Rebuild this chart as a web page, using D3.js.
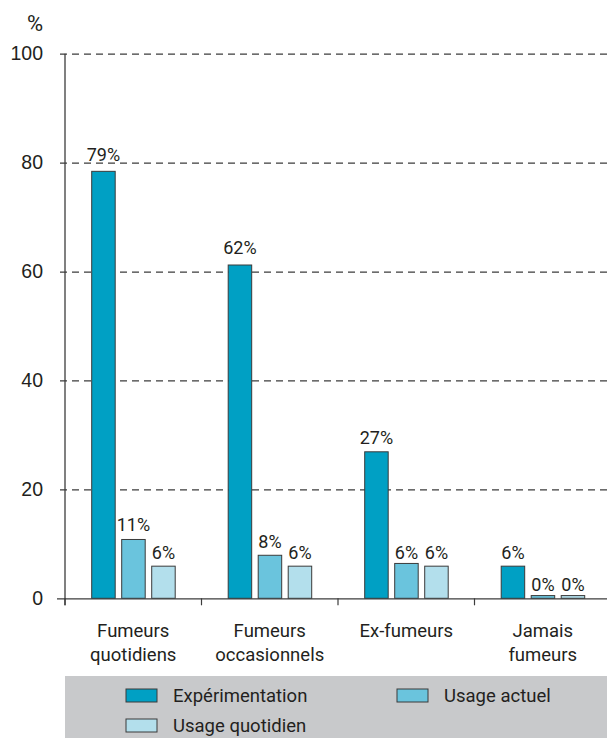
<!DOCTYPE html>
<html>
<head>
<meta charset="utf-8">
<script src="https://cdn.jsdelivr.net/npm/d3@7"></script>
<style>
  body { margin: 0; background: #fff; }
  svg { display: block; font-family: Roboto, "Liberation Sans", sans-serif; }
</style>
</head>
<body>
<div id="chart"></div>
<script>
// Data
const categories = ["Fumeurs\nquotidiens", "Fumeurs\noccasionnels", "Ex-fumeurs", "Jamais\nfumeurs"];
const series = ["Expérimentation", "Usage actuel", "Usage quotidien"];
const experimentation = [78.4, 61.2, 26.9, 5.9];
const usageActuel = [10.8, 7.9, 6.4, 0.5];
const usageQuotidien = [5.9, 5.9, 5.9, 0.5];
// printed labels (%)
const experimentationLabels = [79, 62, 27, 6];
const usageActuelLabels = [11, 8, 6, 0];
const usageQuotidienLabels = [6, 6, 6, 0];
const yTicks = [0, 20, 40, 60, 80, 100];

// Global Config
const W = 607, H = 738;
const plot = { left: 65, right: 611, top: 53.7, bottom: 598.3 };
const colors = ["#00a0c4", "#6ac4dd", "#b3dfec"];
const textColor = "#231f20";

const svg = d3.select("#chart").append("svg")
    .attr("width", W)
    .attr("height", H);

// Scales
const y = d3.scaleLinear().domain([0, 100]).range([plot.bottom, plot.top]);

const x0 = d3.scaleBand()
    .domain(categories)
    .range([plot.left, plot.right])
    .padding(0);

const x1 = d3.scaleBand()
    .domain(series)
    .range([26.7, 110.2])
    .paddingInner(0.217)
    .paddingOuter(0);

// --- Y axis with dashed grid ---
const yAxis = svg.append("g")
    .attr("transform", `translate(${W},0)`)
    .call(d3.axisLeft(y).tickValues(yTicks).tickSizeInner(W - 57).tickSizeOuter(0).tickPadding(14));

yAxis.select(".domain").remove();
yAxis.selectAll(".tick line")
    .attr("stroke", "#3c3c3c")
    .attr("stroke-width", 1.2)
    .attr("stroke-dasharray", d => d === 0 ? null : "7,5");
yAxis.selectAll(".tick text")
    .attr("fill", textColor)
    .style("font-size", "19.5px");

// "%" unit label
svg.append("text")
    .attr("x", 43)
    .attr("y", 30.5)
    .attr("text-anchor", "end")
    .attr("fill", textColor)
    .style("font-size", "22px")
    .text("%");

// vertical axis line
svg.append("line")
    .attr("x1", plot.left).attr("x2", plot.left)
    .attr("y1", y(100)).attr("y2", plot.bottom + 7)
    .attr("stroke", "#3c3c3c")
    .attr("stroke-width", 1.3);

// --- X axis ticks & category labels ---
svg.selectAll(".xtick")
    .data(categories)
    .enter().append("line")
    .attr("x1", d => x0(d)).attr("x2", d => x0(d))
    .attr("y1", plot.bottom).attr("y2", plot.bottom + 7)
    .attr("stroke", "#3c3c3c")
    .attr("stroke-width", 1.2);

const catLabels = svg.selectAll(".cat")
    .data(categories)
    .enter().append("text")
    .attr("text-anchor", "middle")
    .attr("fill", textColor)
    .style("font-size", "18.5px")
    .attr("transform", d => `translate(${x0(d) + x0.bandwidth() / 2},${637})`);

catLabels.selectAll("tspan")
    .data(d => d.split("\n"))
    .enter().append("tspan")
    .attr("x", 0)
    .attr("y", (d, i) => i * 23.5)
    .text(d => d);

// --- Bars ---
const barData = categories.map((c, i) => ({
    category: c,
    values: [
        { key: series[0], value: experimentation[i], label: experimentationLabels[i] },
        { key: series[1], value: usageActuel[i], label: usageActuelLabels[i] },
        { key: series[2], value: usageQuotidien[i], label: usageQuotidienLabels[i] }
    ]
}));

const groups = svg.selectAll(".group")
    .data(barData)
    .enter().append("g")
    .attr("transform", d => `translate(${x0(d.category)},0)`);

groups.selectAll("rect")
    .data(d => d.values)
    .enter().append("rect")
    .attr("x", d => x1(d.key))
    .attr("y", d => y(d.value))
    .attr("width", x1.bandwidth())
    .attr("height", d => y(0) - y(d.value))
    .attr("fill", (d, i) => colors[i])
    .attr("stroke", "#3a3a3a")
    .attr("stroke-width", 1);

// value labels sit above the printed (rounded) value
groups.selectAll(".lbl")
    .data(d => d.values)
    .enter().append("text")
    .attr("x", d => x1(d.key) + x1.bandwidth() / 2)
    .attr("y", d => y(d.label) - 7)
    .attr("text-anchor", "middle")
    .attr("fill", textColor)
    .style("font-size", "18px")
    .text(d => `${d.label}%`);

// --- Legend ---
svg.append("rect")
    .attr("x", 65).attr("y", 676)
    .attr("width", W - 65).attr("height", H - 676)
    .attr("fill", "#c8c9cb");

const legendPos = [[126, 689], [397, 689], [126, 719]];
const legend = svg.selectAll(".legend")
    .data(series)
    .enter().append("g")
    .attr("transform", (d, i) => `translate(${legendPos[i][0]},${legendPos[i][1]})`);

legend.append("rect")
    .attr("width", 31).attr("height", 13)
    .attr("fill", (d, i) => colors[i])
    .attr("stroke", "#3a3a3a")
    .attr("stroke-width", 1);

legend.append("text")
    .attr("x", 47).attr("y", 13)
    .attr("fill", textColor)
    .style("font-size", "18.5px")
    .text(d => d);
</script>
</body>
</html>
